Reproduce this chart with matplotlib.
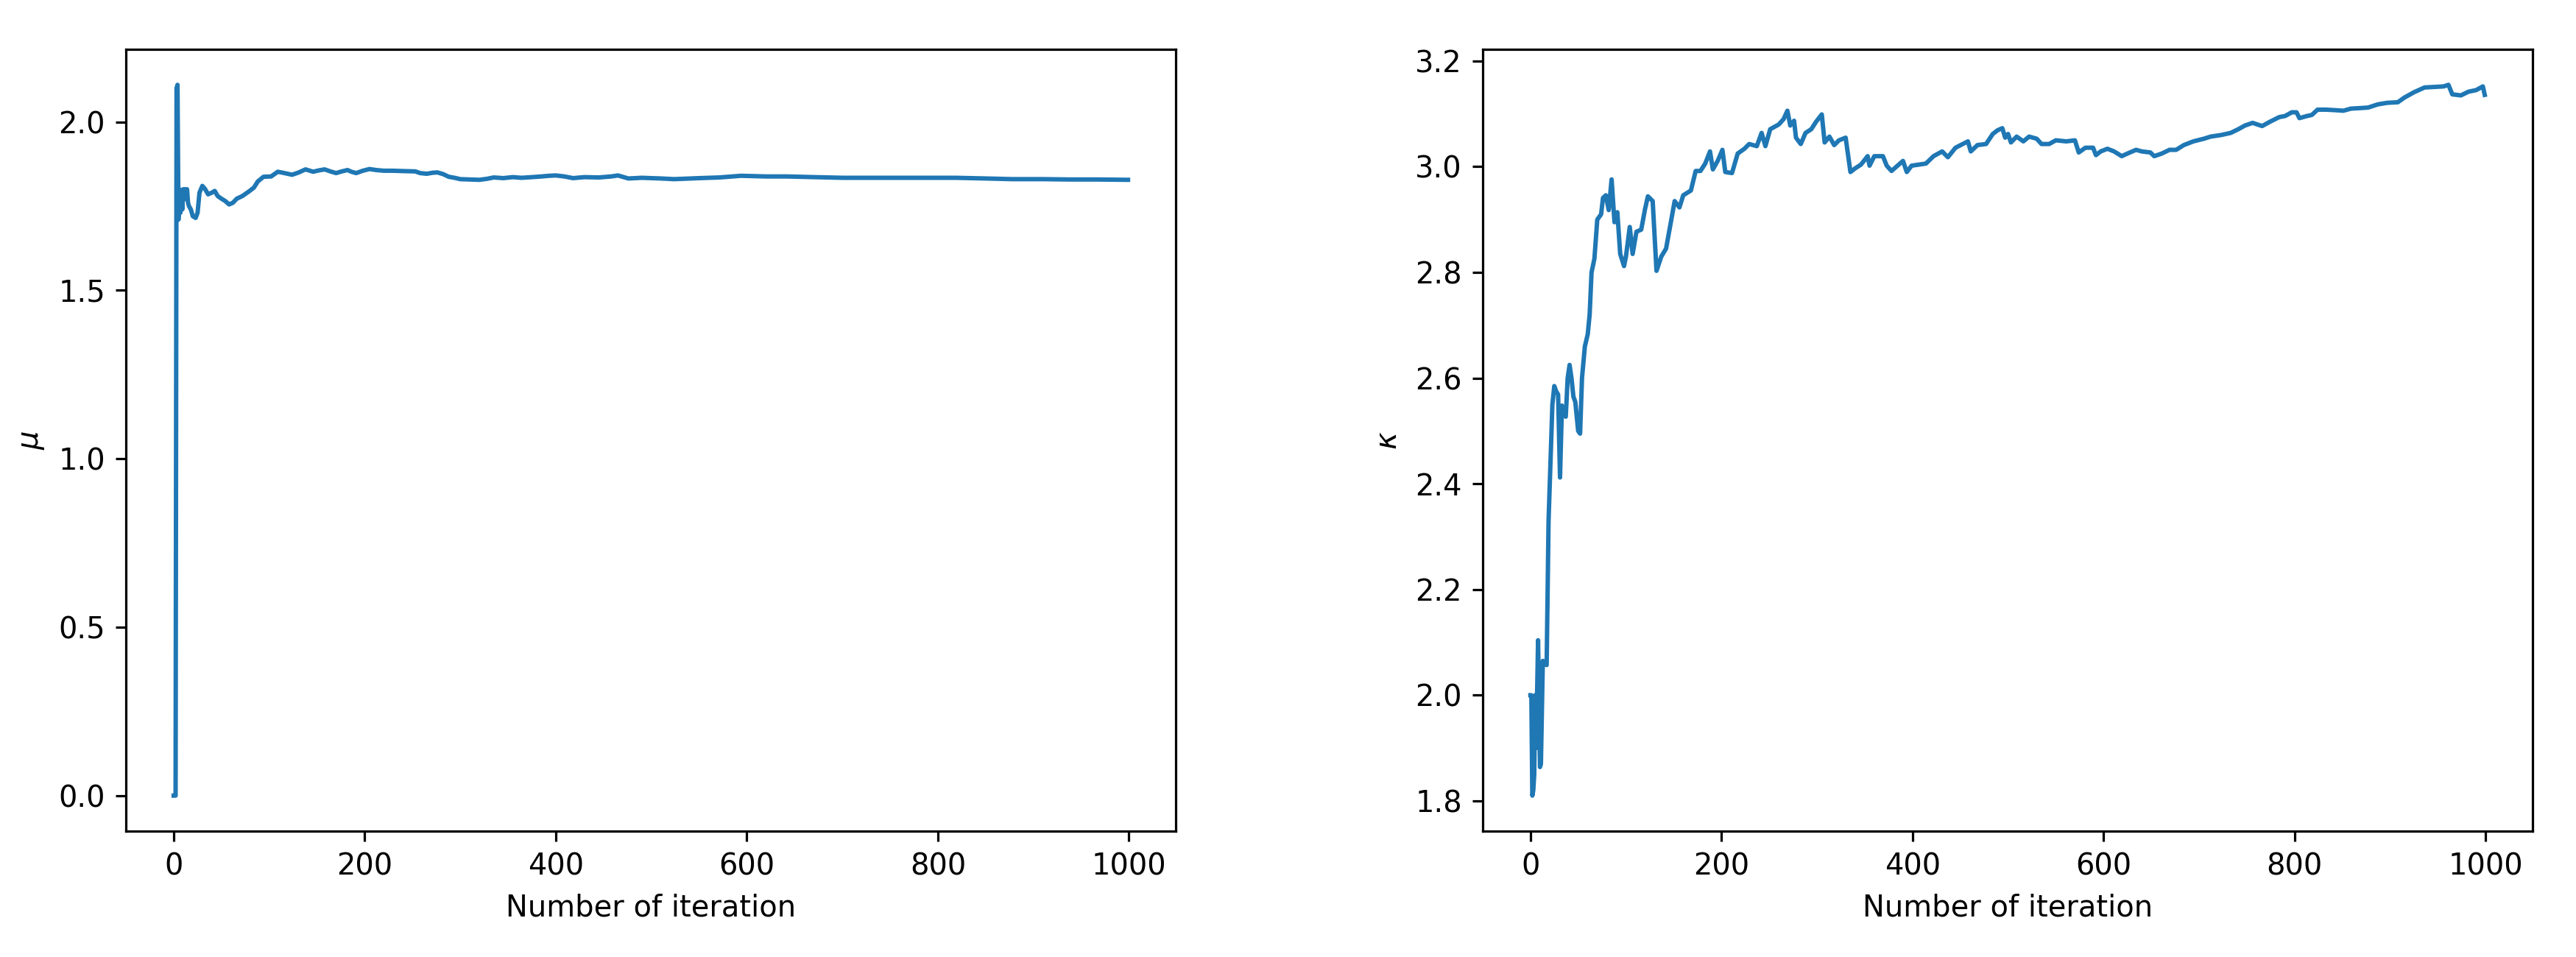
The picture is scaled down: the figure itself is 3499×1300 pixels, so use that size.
import matplotlib
matplotlib.use('Agg')
import matplotlib.pyplot as plt

# running estimate of mu
mu_iter = [0, 1, 2, 3, 4, 5, 6, 7, 8, 9, 10, 11, 12, 13, 14, 15, 16, 18, 20, 23,
           25, 27, 30, 33, 36, 40, 43, 46, 50, 54, 58, 62, 66, 72, 79, 84, 88, 94,
           102, 109, 116, 124, 131, 138, 146, 152, 158, 164, 170, 176, 182, 186,
           191, 198, 205, 212, 220, 229, 240, 253, 258, 265, 271, 276, 282, 288,
           294, 300, 310, 320, 328, 335, 345, 355, 364, 375, 385, 393, 400, 409,
           418, 430, 445, 458, 465, 476, 490, 510, 524, 550, 571, 594, 620, 642,
           670, 701, 730, 760, 790, 819, 850, 878, 910, 937, 965, 999]
mu_vals = [0.0, 0.0, 0.0, 2.10, 2.11, 1.71, 1.80, 1.73, 1.79, 1.74, 1.80, 1.77,
           1.80, 1.79, 1.80, 1.76, 1.75, 1.74, 1.72, 1.715, 1.73, 1.79, 1.81,
           1.80, 1.785, 1.79, 1.795, 1.78, 1.772, 1.765, 1.755, 1.76, 1.772,
           1.78, 1.794, 1.805, 1.823, 1.837, 1.838, 1.852, 1.848, 1.843, 1.850,
           1.859, 1.852, 1.856, 1.859, 1.853, 1.848, 1.853, 1.857, 1.852, 1.848,
           1.855, 1.860, 1.857, 1.855, 1.855, 1.854, 1.853, 1.848, 1.846, 1.849,
           1.850, 1.845, 1.837, 1.834, 1.830, 1.829, 1.828, 1.831, 1.835, 1.833,
           1.836, 1.834, 1.836, 1.838, 1.840, 1.841, 1.838, 1.833, 1.836, 1.835,
           1.838, 1.841, 1.832, 1.834, 1.832, 1.830, 1.833, 1.835, 1.840, 1.838,
           1.838, 1.836, 1.834, 1.834, 1.834, 1.834, 1.834, 1.832, 1.830, 1.830,
           1.829, 1.829, 1.828]

# running estimate of kappa
kappa_iter = [0, 1, 2, 3, 4, 5, 6, 8, 9, 10, 11, 13, 15, 17, 19, 21, 23, 25, 27,
              29, 31, 33, 35, 37, 39, 41, 43, 45, 47, 50, 52, 54, 57, 60, 62, 64,
              67, 70, 74, 76, 79, 82, 85, 88, 91, 94, 98, 100, 104, 107, 111, 116,
              120, 123, 128, 132, 137, 142, 151, 156, 160, 168, 173, 178, 183, 188,
              191, 196, 201, 204, 211, 217, 224, 229, 237, 242, 246, 251, 260, 265,
              269, 272, 276, 278, 283, 288, 294, 299, 305, 308, 313, 318, 323, 330,
              332, 335, 340, 346, 353, 355, 360, 369, 373, 378, 390, 394, 399, 414,
              422, 431, 437, 445, 458, 461, 468, 477, 484, 489, 494, 497, 500, 503,
              509, 516, 522, 530, 535, 543, 550, 561, 570, 574, 581, 589, 592, 597,
              604, 611, 619, 625, 634, 640, 649, 653, 661, 669, 676, 684, 694, 705,
              712, 723, 733, 741, 748, 756, 761, 766, 774, 784, 790, 797, 802, 805,
              813, 818, 824, 833, 843, 851, 859, 869, 877, 887, 897, 908, 915, 925,
              936, 946, 956, 961, 965, 974, 982, 990, 997, 999]
kappa_vals = [2.00, 2.00, 1.81, 1.82, 1.85, 2.00, 1.90, 2.104, 2.00, 1.864, 1.87,
              2.065, 2.06, 2.057, 2.33, 2.44, 2.55, 2.585, 2.575, 2.569, 2.412,
              2.548, 2.53, 2.527, 2.60, 2.625, 2.60, 2.565, 2.555, 2.50, 2.495,
              2.60, 2.66, 2.683, 2.72, 2.80, 2.826, 2.90, 2.91, 2.941, 2.946,
              2.918, 2.976, 2.895, 2.914, 2.835, 2.812, 2.83, 2.886, 2.835, 2.877,
              2.881, 2.92, 2.944, 2.935, 2.803, 2.83, 2.845, 2.935, 2.923, 2.946,
              2.955, 2.992, 2.992, 3.006, 3.029, 2.995, 3.011, 3.032, 2.990, 2.988,
              3.025, 3.034, 3.043, 3.039, 3.064, 3.039, 3.071, 3.080, 3.090, 3.106,
              3.078, 3.087, 3.055, 3.043, 3.064, 3.071, 3.085, 3.099, 3.046, 3.057,
              3.041, 3.050, 3.055, 3.029, 2.990, 2.997, 3.004, 3.020, 3.002, 3.020,
              3.020, 3.002, 2.992, 3.011, 2.990, 3.002, 3.006, 3.020, 3.029, 3.018,
              3.036, 3.048, 3.029, 3.041, 3.043, 3.062, 3.069, 3.073, 3.055, 3.062,
              3.046, 3.057, 3.048, 3.057, 3.053, 3.043, 3.043, 3.050, 3.048, 3.050,
              3.027, 3.036, 3.036, 3.022, 3.029, 3.034, 3.029, 3.020, 3.025, 3.032,
              3.029, 3.027, 3.020, 3.025, 3.032, 3.032, 3.041, 3.048, 3.053, 3.057,
              3.060, 3.064, 3.071, 3.078, 3.083, 3.080, 3.077, 3.085, 3.094, 3.096,
              3.103, 3.103, 3.092, 3.096, 3.098, 3.108, 3.108, 3.107, 3.106, 3.110,
              3.111, 3.112, 3.118, 3.121, 3.122, 3.131, 3.141, 3.150, 3.151, 3.152,
              3.155, 3.137, 3.135, 3.142, 3.145, 3.152, 3.136]


def plot_trace(ax, x, y, ylabel):
    """Plot a running estimate against the iteration number."""
    ax.plot(x, y, color='tab:blue', lw=1.5)
    ax.set_xlabel('Number of iteration')
    ax.set_ylabel(ylabel)


fig, (ax1, ax2) = plt.subplots(1, 2, figsize=(3499 / 288, 1300 / 288), dpi=288)
fig.subplots_adjust(left=0.0489, right=0.9831, top=0.9485, bottom=0.1315, wspace=0.2924)

plot_trace(ax1, mu_iter, mu_vals, r'$\mu$')
plot_trace(ax2, kappa_iter, kappa_vals, r'$\kappa$')

fig.savefig('out.png', dpi=288)
